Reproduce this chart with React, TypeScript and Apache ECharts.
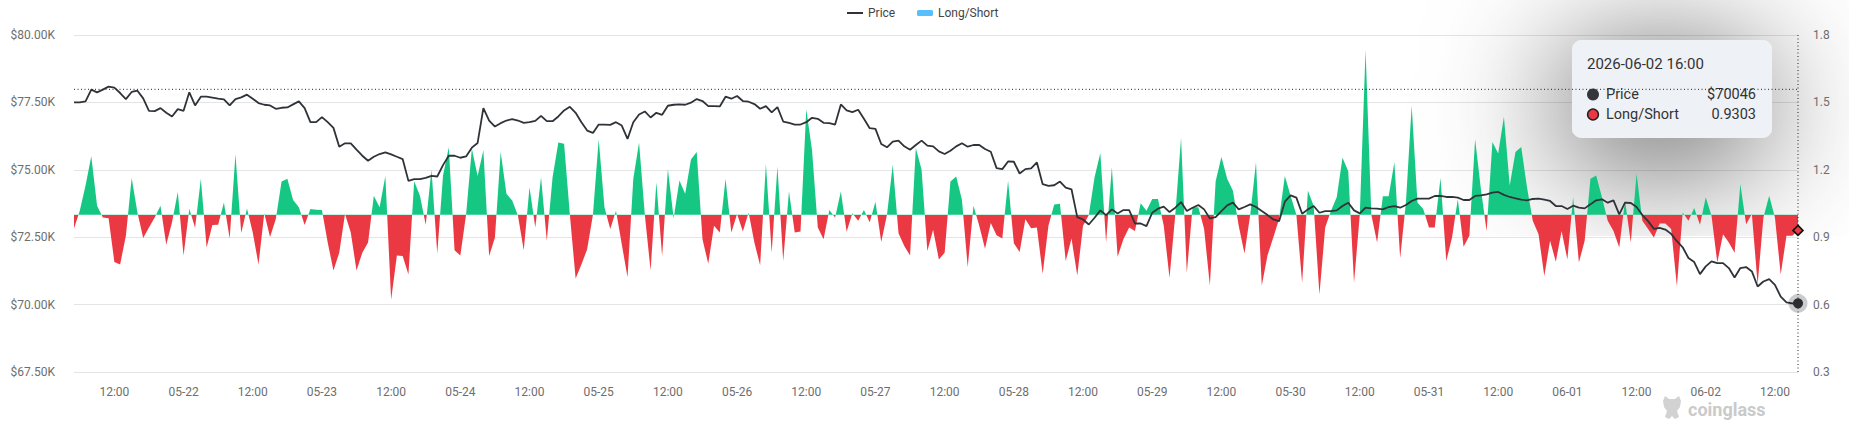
import React, { useEffect, useRef } from "react";
import * as echarts from "echarts";

// ---------------- data ----------------
const START_UTC = Date.UTC(2026, 4, 21, 5); // 2026-05-21 05:00, hourly points

const price: number[] = [
  77500, 77500, 77537, 77973, 77873, 77973, 78085, 78047, 77848, 77624,
  77886, 77935, 77649, 77189, 77177, 77289, 77114, 76978, 77251, 77189,
  77873, 77388, 77711, 77711, 77674, 77637, 77612, 77388, 77624, 77687,
  77786, 77637, 77475, 77413, 77388, 77264, 77301, 77313, 77425, 77537,
  77289, 76766, 76766, 76953, 76766, 76555, 75858, 75982, 75982, 75746,
  75522, 75335, 75485, 75584, 75646, 75572, 75485, 75398, 74589, 74651,
  74651, 74701, 74776, 74751, 75174, 75522, 75522, 75447, 75497, 75821,
  75995, 77289, 76828, 76604, 76729, 76828, 76878, 76828, 76741, 76766,
  76816, 77002, 76803, 76803, 76978, 77201, 77338, 77114, 76766, 76455,
  76368, 76679, 76679, 76667, 76766, 76642, 76144, 76766, 77052, 77164,
  76940, 77114, 77040, 77376, 77413, 77425, 77413, 77488, 77624, 77550,
  77363, 77363, 77351, 77711, 77637, 77736, 77550, 77525, 77438, 77264,
  77363, 77127, 77326, 76791, 76741, 76679, 76679, 76766, 76928, 76890,
  76741, 76729, 76679, 77425, 77201, 77139, 77226, 76890, 76542, 76517,
  75957, 75833, 76044, 76082, 75870, 75746, 75920, 76082, 75895, 75870,
  75684, 75584, 75709, 75870, 75982, 75858, 75920, 75920, 75771, 75671,
  75062, 75024, 75311, 75298, 74863, 75024, 75049, 75273, 74465, 74402,
  74427, 74564, 74340, 74278, 73245, 73158, 72972, 73221, 73494, 73320,
  73532, 73382, 73507, 73507, 73009, 73009, 72910, 73407, 73557, 73631,
  73432, 73594, 73805, 73469, 73594, 73693, 73532, 73196, 73245, 73469,
  73681, 73780, 73532, 73619, 73718, 73619, 73469, 73320, 73158, 73096,
  73818, 74054, 73967, 73370, 73532, 73656, 73407, 73469, 73469, 73494,
  73656, 73780, 73494, 73382, 73594, 73569, 73557, 73532, 73619, 73656,
  73594, 73693, 73843, 73930, 73930, 73930, 74029, 74029, 73992, 73992,
  73967, 73880, 73880, 74029, 74054, 74091, 74154, 74179, 74070, 73992,
  73942, 73892, 73868, 73917, 73930, 73892, 73843, 73656, 73656, 73544,
  73668, 73594, 73569, 73718, 73868, 73905, 73780, 73868, 73345, 73780,
  73768, 73619, 73320, 73096, 72810, 72847, 72785, 72624, 72350, 72126,
  71728, 71579, 71131, 71417, 71603, 71541, 71541, 71354, 71006, 71354,
  71392, 71230, 70670, 70857, 70944, 70733, 70297, 70086, 70049, 70046,
];

const longShort: number[] = [
  0.939, 1.018, 1.13, 1.26, 1.04, 0.988, 0.984, 0.79, 0.779, 0.906,
  1.164, 1.01, 0.896, 0.943, 0.988, 1.04, 0.866, 0.966, 1.101, 0.819,
  1.027, 0.942, 1.16, 0.854, 0.954, 0.955, 1.055, 0.894, 1.269, 0.919,
  1.028, 0.921, 0.779, 1.007, 0.901, 0.981, 1.148, 1.16, 1.066, 1.033,
  0.954, 1.025, 1.022, 1.021, 0.876, 0.752, 0.831, 1.003, 0.921, 0.752,
  0.831, 0.876, 1.085, 1.033, 1.172, 0.622, 0.819, 0.816, 0.734, 1.149,
  1.085, 0.955, 1.2, 0.827, 1.175, 1.3, 0.842, 0.819, 1.0, 1.294,
  1.172, 1.287, 0.816, 0.899, 1.279, 1.093, 1.063, 0.996, 0.842, 1.122,
  0.943, 1.167, 0.884, 1.167, 1.321, 1.316, 1.0, 0.716, 0.779, 0.846,
  1.0, 1.336, 1.033, 0.936, 1.018, 0.869, 0.722, 1.16, 1.321, 1.0,
  0.752, 1.145, 0.816, 1.204, 0.984, 1.152, 1.093, 1.246, 1.279, 0.891,
  0.782, 0.951, 0.921, 1.16, 0.921, 1.003, 0.925, 1.01, 0.876, 0.775,
  1.227, 0.831, 1.215, 0.794, 1.104, 0.921, 0.925, 1.469, 1.287, 0.943,
  0.891, 1.021, 0.988, 1.103, 0.924, 1.007, 0.973, 1.021, 0.966, 1.058,
  0.879, 1.0, 1.222, 0.918, 0.861, 0.819, 1.297, 1.2, 0.839, 0.933,
  0.801, 0.831, 1.148, 1.17, 1.067, 0.767, 1.04, 0.951, 0.849, 0.963,
  0.909, 0.894, 1.151, 0.873, 0.834, 0.98, 0.94, 0.943, 0.737, 0.951,
  1.045, 1.049, 0.794, 0.894, 0.73, 0.951, 0.999, 1.167, 1.275, 0.876,
  1.212, 0.813, 0.891, 0.943, 0.928, 1.051, 1.018, 1.07, 1.07, 0.951,
  0.719, 1.0, 1.342, 0.742, 1.033, 1.033, 0.936, 0.685, 1.149, 1.257,
  1.16, 1.107, 0.951, 0.827, 1.0, 1.234, 0.685, 0.82, 0.899, 0.981,
  1.172, 1.085, 1.0, 0.697, 1.107, 1.04, 0.645, 0.943, 1.018, 1.078,
  1.254, 1.193, 0.697, 1.0, 1.734, 1.0, 0.876, 1.082, 1.082, 1.234,
  0.806, 1.055, 1.485, 1.055, 1.025, 0.943, 0.943, 1.163, 0.794, 0.899,
  1.07, 0.857, 0.906, 1.336, 1.115, 0.928, 1.324, 1.272, 1.436, 1.13,
  1.279, 1.301, 1.122, 0.973, 0.913, 0.727, 0.884, 0.791, 0.928, 0.801,
  1.078, 0.787, 0.884, 1.16, 1.175, 1.078, 0.973, 0.928, 0.854, 1.063,
  0.876, 1.182, 0.973, 0.936, 0.899, 0.961, 0.961, 0.936, 0.682, 1.01,
  0.973, 1.03, 0.955, 1.078, 0.996, 0.787, 0.913, 0.876, 0.831, 1.137,
  0.958, 1.003, 0.69, 0.988, 1.085, 0.988, 0.734, 0.906, 0.906, 0.9303,
];

const priceTicks = { min: 67500, max: 80000, interval: 2500 };
const ratioTicks = { min: 0.3, max: 1.8, interval: 0.3 };
const ratioBaseline = 1;
const crosshairPrice = 77985;

const pad = (n: number) => String(n).padStart(2, "0");
const times: string[] = price.map((_, i) => {
  const d = new Date(START_UTC + i * 3600 * 1000);
  return `${d.getUTCFullYear()}-${pad(d.getUTCMonth() + 1)}-${pad(d.getUTCDate())} ${pad(d.getUTCHours())}:00`;
});

const GREEN = "#16c784";
const RED = "#ea3943";
const DARK = "#2f3338";
const FONT = "Roboto, 'Noto Sans', sans-serif";

let logoRegistered = false;

export default function App() {
  const ref = useRef<HTMLDivElement>(null);

  useEffect(() => {
    document.body.style.margin = "0";
    document.body.style.overflow = "hidden";
    if (!ref.current) return;
    const chart = echarts.init(ref.current, undefined, { renderer: "svg" });

    if (!logoRegistered) {
      try {
        echarts.graphic.registerShape(
          "cgLogo",
          echarts.graphic.extendPath(
            "M5,1 L9,4 L15,4 L19,1 L21,6 L20,12 L17,16 L19,22 L15,24 L12,21 L9,24 L5,22 L7,16 L4,12 L3,6 Z",
            {}
          )
        );
        logoRegistered = true;
      } catch (e) {}
    }

    const last = price.length - 1;
    const axisLabelStyle = { color: "#6e6e6e", fontSize: 12, fontFamily: FONT };

    chart.setOption({
      animation: false,
      textStyle: { fontFamily: FONT },
      legend: [
        {
          data: [{ name: "Price", icon: "rect", itemStyle: { color: DARK, borderWidth: 0 } }],
          left: 842,
          top: 2,
          itemWidth: 16,
          itemHeight: 2,
          itemGap: 0,
          selectedMode: false,
          textStyle: { color: "#444", fontSize: 12, fontFamily: FONT },
        },
        {
          data: [{ name: "Long/Short", icon: "roundRect", itemStyle: { color: "#58bfff", borderWidth: 0 } }],
          left: 912,
          top: 2,
          itemWidth: 16,
          itemHeight: 6,
          itemGap: 0,
          selectedMode: false,
          textStyle: { color: "#444", fontSize: 12, fontFamily: FONT },
        },
      ],
      grid: { left: 74, right: 51, top: 35, bottom: 52, containLabel: false },
      xAxis: {
        type: "category",
        data: times,
        boundaryGap: false,
        axisLine: { show: false },
        axisTick: { show: false },
        splitLine: { show: false },
        axisLabel: {
          ...axisLabelStyle,
          margin: 14,
          interval: (_i: number, v: string) => v.endsWith(" 00:00") || v.endsWith(" 12:00"),
          formatter: (v: string) => (v.slice(11) === "12:00" ? "12:00" : v.slice(5, 10)),
        },
      },
      yAxis: [
        {
          type: "value",
          position: "left",
          ...priceTicks,
          axisLine: { show: false },
          axisTick: { show: false },
          splitLine: { show: true, lineStyle: { color: "#e4e4e4", width: 1 } },
          axisLabel: {
            ...axisLabelStyle,
            margin: 19,
            formatter: (v: number) => "$" + (v / 1000).toFixed(2) + "K",
          },
        },
        {
          type: "value",
          position: "right",
          ...ratioTicks,
          axisLine: { show: false },
          axisTick: { show: false },
          splitLine: { show: false },
          axisLabel: {
            ...axisLabelStyle,
            margin: 15,
            formatter: (v: number) => v.toFixed(1),
          },
        },
      ],
      visualMap: {
        type: "piecewise",
        show: false,
        seriesIndex: 1,
        dimension: 1,
        pieces: [
          { gt: ratioBaseline, lte: ratioTicks.max, color: GREEN },
          { gte: ratioTicks.min, lte: ratioBaseline, color: RED },
        ],
        outOfRange: { color: RED },
      },
      series: [
        {
          name: "Price",
          type: "line",
          yAxisIndex: 0,
          data: price,
          symbol: "none",
          z: 5,
          color: DARK,
          lineStyle: { color: DARK, width: 1.8 },
          silent: true,
        },
        {
          name: "Long/Short",
          type: "line",
          yAxisIndex: 1,
          data: longShort,
          symbol: "none",
          z: 2,
          color: "#58bfff",
          silent: true,
          lineStyle: { width: 0, opacity: 0 },
          areaStyle: { origin: ratioBaseline, opacity: 1 },
        },
      ],
    });

    // pixel positions through the chart's own scales
    const toPx = (yIdx: number, x: number, y: number) =>
      chart.convertToPixel({ xAxisIndex: 0, yAxisIndex: yIdx }, [x, y]) as number[];
    const pLast = toPx(0, last, price[last]);
    const rLast = toPx(1, last, longShort[last]);
    const top = toPx(0, 0, priceTicks.max);
    const bottom = toPx(0, last, priceTicks.min);
    const cross = toPx(0, 0, crosshairPrice);
    const dotted = { stroke: "#222", lineWidth: 1, lineDash: [1, 2.5] };

    chart.setOption({
      graphic: [
        {
          type: "line",
          z: 40,
          silent: true,
          shape: { x1: top[0], y1: cross[1], x2: pLast[0], y2: cross[1] },
          style: dotted,
        },
        {
          type: "line",
          z: 40,
          silent: true,
          shape: { x1: pLast[0], y1: top[1], x2: pLast[0], y2: bottom[1] },
          style: dotted,
        },
        {
          type: "circle",
          z: 41,
          silent: true,
          shape: { cx: pLast[0], cy: pLast[1], r: 9.5 },
          style: { fill: "rgba(0,0,0,0.2)" },
        },
        {
          type: "circle",
          z: 42,
          silent: true,
          shape: { cx: pLast[0], cy: pLast[1], r: 5 },
          style: { fill: "#2a2e33" },
        },
        {
          type: "polygon",
          z: 42,
          silent: true,
          shape: {
            points: [
              [rLast[0], rLast[1] - 5],
              [rLast[0] + 5, rLast[1]],
              [rLast[0], rLast[1] + 5],
              [rLast[0] - 5, rLast[1]],
            ],
          },
          style: { fill: RED, stroke: "#111", lineWidth: 1.6 },
        },
        {
          type: "group",
          x: 1660,
          y: 395,
          z: 50,
          silent: true,
          children: [
            logoRegistered
              ? { type: "cgLogo", x: 0, y: 0, scaleX: 1, scaleY: 1, style: { fill: "#d2d2d2" } }
              : { type: "rect", shape: { x: 3, y: 1, width: 18, height: 23, r: 6 }, style: { fill: "#d2d2d2" } },
            {
              type: "text",
              x: 28,
              y: 14,
              style: {
                text: "coinglass",
                fill: "#cacaca",
                font: `bold 18px ${FONT}`,
                verticalAlign: "middle",
              },
            },
          ],
        },
        {
          type: "group",
          x: 1572,
          y: 40,
          z: 100,
          silent: true,
          children: [
            {
              type: "rect",
              shape: { x: 0, y: 0, width: 200, height: 98, r: 10 },
              style: {
                fill: "#eef1f5",
                shadowBlur: 130,
                shadowColor: "rgba(0,0,0,0.75)",
                shadowOffsetX: -10,
                shadowOffsetY: 18,
              },
            },
            {
              type: "text",
              x: 15,
              y: 24,
              style: { text: times[last], fill: "#333", font: `15px ${FONT}`, verticalAlign: "middle" },
            },
            { type: "circle", shape: { cx: 21, cy: 54.5, r: 6 }, style: { fill: "#33373c" } },
            {
              type: "text",
              x: 34,
              y: 54.5,
              style: { text: "Price", fill: "#333", font: `14.5px ${FONT}`, verticalAlign: "middle" },
            },
            {
              type: "text",
              x: 184,
              y: 54.5,
              style: {
                text: "$" + Math.round(price[last]),
                fill: "#333",
                font: `14.5px ${FONT}`,
                align: "right",
                verticalAlign: "middle",
              },
            },
            {
              type: "circle",
              shape: { cx: 21, cy: 74.5, r: 5.4 },
              style: { fill: RED, stroke: "#222", lineWidth: 1.5 },
            },
            {
              type: "text",
              x: 34,
              y: 74.5,
              style: { text: "Long/Short", fill: "#333", font: `14.5px ${FONT}`, verticalAlign: "middle" },
            },
            {
              type: "text",
              x: 184,
              y: 74.5,
              style: {
                text: longShort[last].toFixed(4),
                fill: "#333",
                font: `14.5px ${FONT}`,
                align: "right",
                verticalAlign: "middle",
              },
            },
          ],
        },
      ],
    });

    return () => chart.dispose();
  }, []);

  return <div ref={ref} style={{ width: 1849, height: 424 }} />;
}
